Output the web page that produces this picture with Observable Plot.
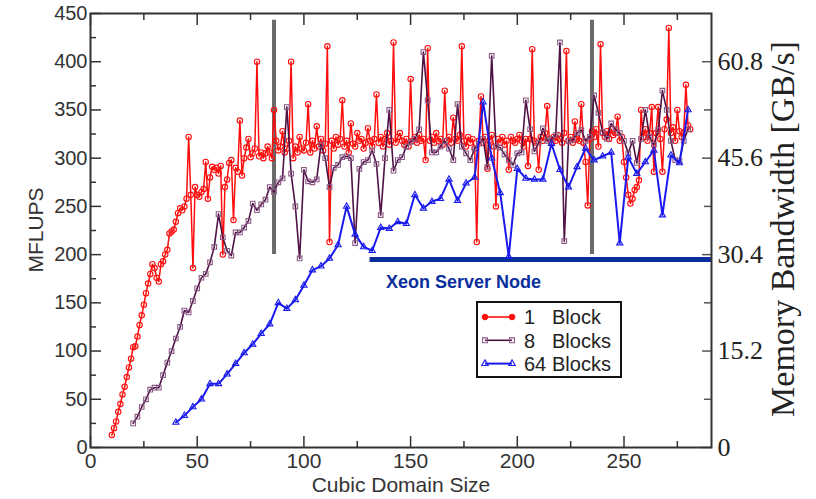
<!DOCTYPE html>
<html><head><meta charset="utf-8">
<script src="https://cdn.jsdelivr.net/npm/d3@7"></script>
<script src="https://cdn.jsdelivr.net/npm/@observablehq/plot@0.6"></script>
<style>body{margin:0;background:#fff}#chart{position:relative;width:816px;height:499px}</style>
</head><body><div id="chart"></div>
<script>
// Axis ticks and labels
const xTicks = [0, 50, 100, 150, 200, 250];
const xMinor = [25, 75, 125, 175, 225, 275];
const yTicks = [0, 50, 100, 150, 200, 250, 300, 350, 400, 450];
const yMinor = [25, 75, 125, 175, 225, 275, 325, 375, 425];
const bwTicks = [0, 100, 200, 300, 400];
const bwLabels = ["0", "15.2", "30.4", "45.6", "60.8"];
const bwMinor = [50, 150, 250, 350];

// Series names
const seriesNames = ["1", "8", "64"];
const seriesUnits = ["Block", "Blocks", "Blocks"];

// Cubic domain sizes
const redX = d3.range(10, 282);
const purpleX = d3.range(20, 281, 2);
const blueX = d3.range(40, 281, 4);

// MFLUPS, 1 Block
const redY = [
 13,20,27,37,45,55,63,73,83,92,
 104,105,115,127,137,148,160,170,180,190,
 186,176,172,190,193,200,205,222,224,226,
 234,243,248,246,250,258,322,262,186,270,
 262,260,265,268,296,258,280,291,288,290,
 284,292,200,270,278,295,298,236,290,286,
 339,282,300,311,320,301,305,310,400,302,
 306,300,305,312,306,300,350,318,308,312,
 328,306,310,318,400,300,312,306,322,310,
 308,316,356,306,318,310,333,312,320,308,
 315,416,213,318,310,322,314,320,360,312,
 318,306,336,315,312,326,318,320,310,316,
 331,318,312,320,366,316,322,312,320,326,
 314,318,420,316,322,326,318,314,320,312,
 382,318,322,316,324,318,320,298,414,318,
 322,316,326,318,320,314,370,318,322,316,
 342,320,318,324,416,318,312,322,316,320,
 310,213,318,364,316,322,289,318,324,312,
 250,320,316,322,314,318,288,322,318,316,
 320,324,318,312,320,292,320,413,318,316,
 288,322,318,326,354,320,316,322,318,324,
 320,316,326,411,318,322,316,338,320,318,
 356,316,296,251,320,328,322,330,312,418,
 326,322,328,320,330,324,326,343,318,322,
 296,280,262,253,258,267,270,277,350,322,
 330,318,326,353,286,326,353,320,286,330,
 340,435,326,332,318,350,328,322,327,376,
 334,330];

// MFLUPS, 8 Blocks
const purpleY = [
 25,32,42,50,60,62,62,75,88,100,
 113,125,142,140,152,165,176,180,192,208,
 242,218,204,199,223,223,228,235,253,246,
 252,257,270,265,275,279,353,284,250,196,
 288,276,275,278,314,300,270,290,293,301,
 302,300,212,289,296,298,308,294,241,300,
 350,287,298,301,312,317,320,330,410,360,
 306,306,312,318,310,298,356,312,305,298,
 310,315,320,291,406,312,311,304,298,293,
 305,306,360,330,307,316,331,318,320,324,
 420,214,318,319,326,329,318,322,365,347,
 327,320,336,330,326,318,305,318,295,320,
 350,322,314,329,370,350,318,298,297,318,
 330];

// MFLUPS, 64 Blocks
const blueY = [
 26,33,42,50,66,66,76,87,98,107,
 118,128,150,144,153,168,184,188,196,210,
 250,221,208,204,228,227,234,232,262,248,
 255,258,278,256,274,280,358,300,264,198,
 289,279,278,278,315,288,270,291,310,298,
 302,306,212,301,284,296,308,241,303,295,
 350];

// Annotations
const markerLinesX = [86, 235];
const markerSpan = [200, 443];
const serverLevel = 195;
const serverSpan = [131, 291];
const serverLabel = "Xeon Server Node";

const red = redX.map((x, i) => ({x, y: redY[i]}));
const purple = purpleX.map((x, i) => ({x, y: purpleY[i]}));
const blue = blueX.map((x, i) => ({x, y: blueY[i]}));

const W = 816, H = 499, mL = 90, mR = 105, mT = 13, mB = 52;
const iw = W - mL - mR, ih = H - mT - mB;
const axisColor = "#333";
const sans = "'Liberation Sans', Arial, Helvetica, sans-serif";
const serif = "'Liberation Serif', 'Times New Roman', serif";
const cRed = "#ff0d0d", cPurpleLine = "#4e1245", cPurpleMark = "#8a5a86", cBlue = "#1a1aee";

const svg = Plot.plot({
  width: W, height: H,
  marginLeft: mL, marginRight: mR, marginTop: mT, marginBottom: mB,
  style: {fontFamily: sans, background: "white", overflow: "visible"},
  x: {domain: [0, 291]},
  y: {domain: [0, 450]},
  marks: [
    // inward ticks
    Plot.tickY(yTicks, {y: d => d, insetRight: iw - 11, stroke: axisColor, strokeWidth: 1.5}),
    Plot.tickY(yMinor, {y: d => d, insetRight: iw - 6, stroke: axisColor, strokeWidth: 1.5}),
    Plot.tickY(bwTicks, {y: d => d, insetLeft: iw - 9, stroke: "#555", strokeWidth: 1.5}),
    Plot.tickY(bwMinor, {y: d => d, insetLeft: iw - 7, stroke: "#555", strokeWidth: 1.5}),
    Plot.tickX(xTicks, {x: d => d, insetTop: ih - 11, stroke: axisColor, strokeWidth: 1.5}),
    Plot.tickX(xMinor, {x: d => d, insetTop: ih - 6, stroke: axisColor, strokeWidth: 1.5}),
    Plot.tickX(xTicks, {x: d => d, insetBottom: ih - 12, stroke: axisColor, strokeWidth: 1.5}),
    Plot.tickX(xMinor, {x: d => d, insetBottom: ih - 7, stroke: axisColor, strokeWidth: 1.5}),
    // axes labels
    Plot.axisX(xTicks, {anchor: "bottom", tickSize: 0, tickPadding: 6, fontSize: 21, fill: axisColor, label: null}),
    Plot.axisY(yTicks, {anchor: "left", tickSize: 0, tickPadding: 3, fontSize: 20, fill: axisColor, label: null}),
    Plot.axisY(bwTicks, {anchor: "right", tickSize: 0, tickPadding: 6, fontSize: 26, fontFamily: serif, fill: "#222",
      tickFormat: d => bwLabels[bwTicks.indexOf(d)], label: null}),
    // annotations
    Plot.ruleX(markerLinesX, {x: d => d, y1: markerSpan[0], y2: markerSpan[1], stroke: "#6a6a6a", strokeWidth: 4}),
    Plot.ruleY([serverLevel], {y: d => d, x1: serverSpan[0], x2: serverSpan[1], stroke: "#0a2f9c", strokeWidth: 5}),
    // series
    Plot.line(red, {x: "x", y: "y", stroke: cRed, strokeWidth: 1.5}),
    Plot.dot(red, {x: "x", y: "y", r: 2.7, stroke: cRed, strokeWidth: 1.1, fill: "none"}),
    Plot.line(purple, {x: "x", y: "y", stroke: cPurpleLine, strokeWidth: 1.6}),
    Plot.dot(purple, {x: "x", y: "y", symbol: "square", r: 2.6, stroke: cPurpleMark, strokeWidth: 1.1, fill: "none"}),
    Plot.line(blue, {x: "x", y: "y", stroke: cBlue, strokeWidth: 2}),
    Plot.dot(blue, {x: "x", y: "y", symbol: "triangle", r: 2.3, stroke: cBlue, strokeWidth: 1.1, fill: "none"}),
    Plot.frame({stroke: axisColor, strokeWidth: 2})
  ]
});

const s = d3.select(svg);
// axis titles
s.append("text").attr("x", 401).attr("y", 492).attr("text-anchor", "middle")
  .attr("font-family", sans).attr("font-size", 21).attr("fill", axisColor).text("Cubic Domain Size");
s.append("text").attr("transform", "translate(43,230) rotate(-90)").attr("text-anchor", "middle")
  .attr("font-family", sans).attr("font-size", 21).attr("fill", axisColor).text("MFLUPS");
s.append("text").attr("transform", "translate(794,229) rotate(-90)").attr("text-anchor", "middle")
  .attr("font-family", serif).attr("font-size", 34).attr("fill", "#222").text("Memory Bandwidth [GB/s]");
// server label
s.append("text").attr("x", 386).attr("y", 288).attr("text-anchor", "start").attr("font-family", sans).attr("font-weight", "bold")
  .attr("font-size", 18).attr("fill", "#0a2f9c").text(serverLabel);

// legend
const lg = s.append("g").attr("text-anchor", "start");
lg.append("rect").attr("x", 477).attr("y", 302).attr("width", 144).attr("height", 75)
  .attr("fill", "white").attr("stroke", "#111").attr("stroke-width", 2);
const lineCols = [cRed, cPurpleLine, cBlue];
const markCols = [cRed, cPurpleMark, cBlue];
const syms = [d3.symbolCircle, d3.symbolSquare, d3.symbolTriangle];
seriesNames.forEach((name, i) => {
  const yy = 317 + i * 23.3;
  lg.append("line").attr("x1", 485).attr("x2", 512).attr("y1", yy).attr("y2", yy)
    .attr("stroke", lineCols[i]).attr("stroke-width", i === 2 ? 2 : 1.6);
  [485, 512].forEach(xx => {
    lg.append("path").attr("d", d3.symbol(syms[i], i === 2 ? 18 : 24)())
      .attr("transform", `translate(${xx},${yy})`).attr("fill", i === 0 ? cRed : "none")
      .attr("stroke", markCols[i]).attr("stroke-width", 1.1);
  });
  lg.append("text").attr("x", 524).attr("y", yy).attr("dy", "0.36em").attr("text-anchor", "start").attr("font-family", sans)
    .attr("font-size", 20).attr("fill", "#222").text(name);
  lg.append("text").attr("x", 552).attr("y", yy).attr("dy", "0.36em").attr("text-anchor", "start").attr("font-family", sans)
    .attr("font-size", 20).attr("fill", "#222").text(seriesUnits[i]);
});

document.getElementById("chart").appendChild(svg);
</script>
</body></html>
